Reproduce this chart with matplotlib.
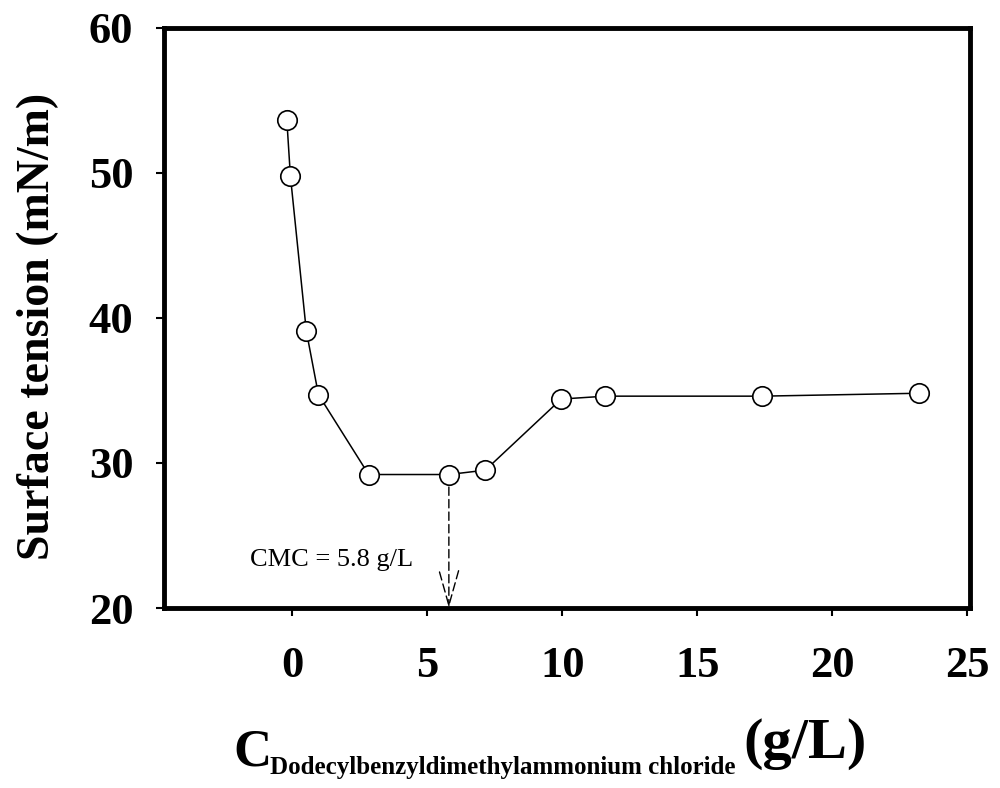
import numpy as np
import matplotlib
matplotlib.use('Agg')
import matplotlib.pyplot as plt

# surface tension vs concentration
conc = [-0.2, -0.07, 0.52, 0.97, 2.83, 5.8, 7.15, 9.96, 11.6, 17.4, 23.2]
tension = [53.6, 49.8, 39.1, 34.7, 29.2, 29.2, 29.5, 34.4, 34.6, 34.6, 34.8]
cmc = 5.8
xticks = [0, 5, 10, 15, 20, 25]
yticks = [20, 30, 40, 50, 60]

plt.rcParams['font.family'] = ['Liberation Serif', 'DejaVu Serif']

fig = plt.figure(figsize=(10, 7.88), dpi=100)
ax = fig.add_axes([0.164, 0.2284, 0.806, 0.7366])

ax.plot(conc, tension, '-', color='black', lw=1.1, zorder=3)
ax.plot(conc, tension, 'o', ms=14, mfc='white', mec='black', mew=1.2, zorder=4)

# CMC marker: dashed arrow down to the axis
cmc_y = tension[conc.index(cmc)]
ax.annotate('', xy=(cmc, 20), xytext=(cmc, cmc_y),
            arrowprops=dict(arrowstyle='->,head_length=2.5,head_width=0.7',
                            mutation_scale=10, lw=1.0, color='black',
                            linestyle=(0, (6, 3)), shrinkA=0, shrinkB=0),
            zorder=2)
ax.text(-1.56, 22.9, 'CMC = 5.8 g/L', fontsize=19, ha='left', va='baseline')

ax.set_xlim(-4.75, 25.1)
ax.set_ylim(20, 60)
ax.set_xticks(xticks)
ax.set_yticks(yticks)
ax.tick_params(axis='both', direction='out', length=6, width=1.5,
               labelsize=32, top=False, right=False)
ax.tick_params(axis='x', pad=21)
ax.tick_params(axis='y', pad=16)
for lab in ax.get_xticklabels() + ax.get_yticklabels():
    lab.set_fontweight('bold')
for sp in ax.spines.values():
    sp.set_linewidth(3.5)

# axis titles
fig.text(0.038, 1 - 326 / 788, 'Surface tension (mN/m)', rotation=90,
         fontsize=33, fontweight='bold', ha='center', va='center')
fig.text(233 / 1000, 1 - 765 / 788, 'C', fontsize=38, fontweight='bold',
         ha='left', va='baseline')
fig.text(270 / 1000, 1 - 774 / 788, 'Dodecylbenzyldimethylammonium chloride',
         fontsize=18, fontweight='bold', ha='left', va='baseline')
fig.text(743 / 1000, 1 - 758 / 788, '(g/L)', fontsize=42, fontweight='bold',
         ha='left', va='baseline')

plt.savefig('out.png', dpi=100)
plt.close()
